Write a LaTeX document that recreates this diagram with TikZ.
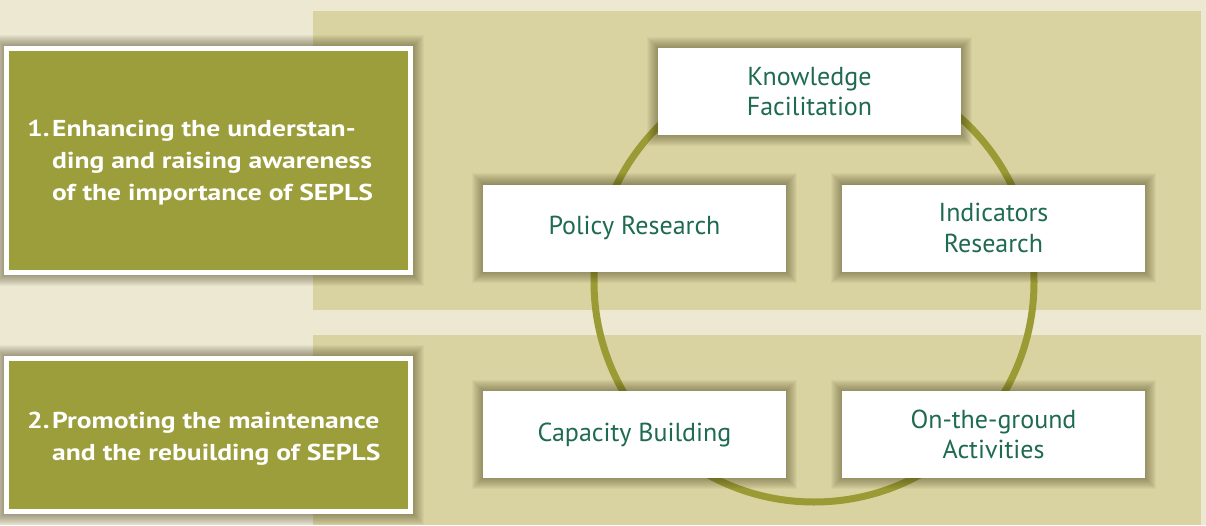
\documentclass[tikz,border=0pt]{standalone}
\usepackage{fontspec}
\setmainfont{PT Sans}
\newfontfamily\goalfont[FakeStretch=1.2]{PT Sans}
\definecolor{bgcream}{HTML}{ECE8D2}
\definecolor{band}{HTML}{D9D3A2}
\definecolor{olive}{HTML}{9C9D3B}
\definecolor{ring}{HTML}{9A9B34}
\definecolor{txtgreen}{HTML}{1E6B4F}
\definecolor{shadowc}{HTML}{3A3510}
\pgfdeclarelayer{bg}
\pgfdeclarelayer{shadowlayer}
\pgfsetlayers{bg,shadowlayer,main}
\newcommand{\softshadow}[1]{%
  \begin{pgfonlayer}{shadowlayer}
  \foreach \i in {0,...,14}{%
    \fill[shadowc, opacity=0.042, shift={(4,6)}]
      ([shift={(3-\i,3-\i)}]#1.north west) rectangle ([shift={(\i-3,\i-3)}]#1.south east);
  }
  \end{pgfonlayer}}
\begin{document}
\begin{tikzpicture}[x=1pt,y=-1pt,
  card/.style={fill=white, minimum width=303pt, minimum height=87pt, inner sep=0pt,
    text=txtgreen, align=center, font=\fontsize{26}{30.5}\selectfont},
  goal/.style={fill=olive, draw=white, line width=5pt, minimum width=404pt, inner sep=0pt},
  goaltext/.style={anchor=base west, text=white, inner sep=0pt,
    font=\goalfont\bfseries\fontsize{23}{32}\selectfont}]
\useasboundingbox (0,0) rectangle (1206,525);
\begin{pgfonlayer}{bg}
\fill[bgcream] (0,0) rectangle (1206,525);
\fill[band] (313,11) rectangle (1201,310);
\fill[band] (313,335) rectangle (1201,525);
\draw[ring, line width=7pt] (814,282) circle[radius=220];
\end{pgfonlayer}
% goal boxes
\node[goal, minimum height=224pt] (g1) at (208.5,160.5) {};
\node[goaltext] (t1) at (27,136) {\begin{tabular}[t]{@{}l@{}l@{}}\makebox[25pt][l]{1.} & Enhancing the understan-\\ & ding and raising awareness\\ & of the importance of SEPLS\end{tabular}};
\node[goal, minimum height=153pt] (g2) at (208.5,435) {};
\node[goaltext] (t2) at (27,428) {\begin{tabular}[t]{@{}l@{}l@{}}\makebox[25pt][l]{2.} & Promoting the maintenance\\ & and the rebuilding of SEPLS\end{tabular}};
% activity cards
\node[card] (know) at (809.5,91.5) {Knowledge\\Facilitation};
\node[card] (pol) at (634.5,228) {Policy Research};
\node[card] (ind) at (993.5,228) {Indicators\\Research};
\node[card] (cap) at (634.5,434.5) {Capacity Building};
\node[card] (otg) at (993.5,434.5) {On-the-ground\\Activities};
\softshadow{g1}\softshadow{g2}
\softshadow{know}\softshadow{pol}\softshadow{ind}\softshadow{cap}\softshadow{otg}
\end{tikzpicture}
\end{document}
